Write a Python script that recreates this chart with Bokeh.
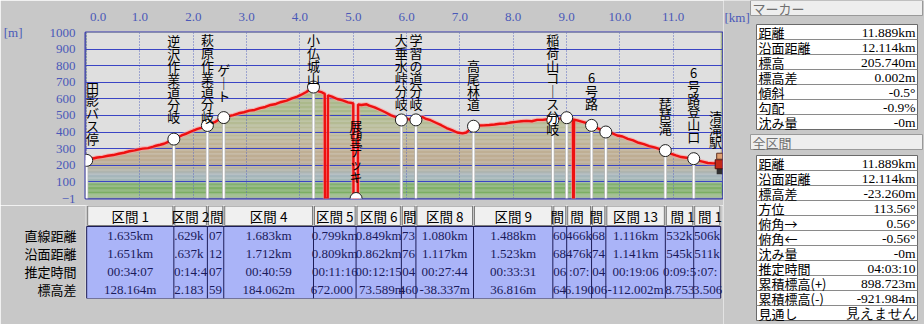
from bokeh.plotting import figure
from bokeh.models import Range1d, FixedTicker, PrintfTickFormatter, LinearAxis
from bokeh.layouts import row, column
from bokeh.embed import file_html
from bokeh.resources import INLINE
from bokeh.core.properties import value

# ---------------- data ----------------
waypoint_names = ["田影バス停", "逆沢作業道分岐", "萩原作業道分岐", "ゲート", "小仏城山",
                  "展望デッキ", "大垂水峠分岐", "学習の道分岐", "高尾林道", "稲荷山コース分岐",
                  "", "6号路", "", "琵琶滝", "6号路登山口", "清滝駅"]
start_elevation = 229.0
seg_labels = ["区間 1", "区間 2", "区間 3", "区間 4", "区間 5", "区間 6", "区間 7", "区間 8",
              "区間 9", "区間 10", "区間 11", "区間 12", "区間 13", "区間 14", "区間 15"]
seg_straight_km = [1.635, 0.629, 0.307, 1.683, 0.799, 0.849, 0.273, 1.080, 1.488, 0.260,
                   0.466, 0.268, 1.116, 0.532, 0.506]
seg_surface_km = [1.651, 0.637, 0.312, 1.712, 0.809, 0.862, 0.276, 1.117, 1.523, 0.268,
                  0.476, 0.274, 1.141, 0.545, 0.511]
seg_time = ["00:34:07", "00:14:43", "00:07:59", "00:40:59", "00:11:16", "00:12:15", "00:04:18",
            "00:27:44", "00:33:31", "00:06:52", "00:07:38", "00:04:21", "00:19:06", "00:09:52",
            "00:07:45"]
seg_dz_m = [128.164, 82.183, 47.592, 184.062, -672.000, 473.589, 0.460, -38.337, 36.816,
            14.643, -46.190, -40.061, -112.002, -48.753, -33.506]
row_names = ["直線距離", "沿面距離", "推定時間", "標高差"]

profile_km = [0.0, 0.06, 0.12, 0.2, 0.3, 0.4, 0.5, 0.6, 0.7, 0.8, 0.9, 1.0, 1.05, 1.15, 1.25,
              1.3, 1.38, 1.45, 1.52, 1.58, 1.635,
              1.7, 1.78, 1.86, 1.93, 2.0, 2.08, 2.15, 2.2, 2.264,
              2.33, 2.4, 2.46, 2.52, 2.571,
              2.65, 2.75, 2.85, 2.95, 3.05, 3.15, 3.25, 3.35, 3.45, 3.55, 3.65, 3.75, 3.85,
              3.95, 4.05, 4.12, 4.2, 4.254,
              4.32, 4.4, 4.465, 4.47, 4.52, 4.525, 4.6, 4.7, 4.8, 4.9, 4.97, 5.0, 5.005,
              5.053, 5.085, 5.09,
              5.15, 5.25, 5.3, 5.4, 5.5, 5.6, 5.7, 5.8, 5.85, 5.902,
              5.95, 6.0, 6.05, 6.1, 6.175,
              6.25, 6.3, 6.35, 6.45, 6.55, 6.65, 6.75, 6.85, 6.95, 7.05, 7.12, 7.2, 7.255,
              7.35, 7.45, 7.55, 7.65, 7.75, 7.85, 7.95, 8.05, 8.15, 8.25, 8.35, 8.45, 8.55,
              8.65, 8.743,
              8.8, 8.87, 8.94, 9.003,
              9.05, 9.1, 9.12, 9.125, 9.135, 9.14, 9.2, 9.3, 9.38, 9.469,
              9.55, 9.62, 9.68, 9.737,
              9.85, 9.95, 10.05, 10.15, 10.25, 10.35, 10.45, 10.55, 10.65, 10.75, 10.853,
              10.95, 11.05, 11.15, 11.25, 11.32, 11.385,
              11.45, 11.55, 11.65, 11.75, 11.82, 11.891]
profile_m = [229.0, 244, 240, 246, 250, 257, 261, 269, 275, 284, 289, 297, 300, 303, 312,
             317, 323, 329, 339, 347, 357.2,
             366, 379, 389, 399, 409, 419, 425, 434, 439.3,
             452, 459, 471, 479, 486.9,
             495, 502, 513, 519, 529, 533, 544, 551, 563, 569, 581, 589, 603,
             613, 629, 641, 660, 671.0,
             648, 641, 630, -1, -1, 621, 613, 599, 591, 579, 575, 572, -1,
             -1.0, -1, 566,
             563, 567, 559, 549, 534, 519, 502, 489, 477, 472.6,
             477, 480, 476, 475, 473.1,
             486, 490, 481, 471, 456, 441, 424, 411, 397, 392, 397, 419, 434.7,
             439, 440, 442, 445, 450, 451, 457, 461, 465, 467, 465, 473, 473,
             477, 471.5,
             478, 481, 485, 486.2,
             482, 479, 476, -1, -1, 474, 470, 461, 453, 440.0,
             427, 417, 407, 399.9,
             393, 379, 373, 359, 349, 335, 327, 315, 307, 297, 287.9,
             270, 259, 249, 245, 236, 239.2,
             229, 221, 213, 211, 212, 205.7]

km_ticks = [0, 1, 2, 3, 4, 5, 6, 7, 8, 9, 10, 11]
m_ticks = [-1, 100, 200, 300, 400, 500, 600, 700, 800, 900, 1000]

marker_keys = ["距離", "沿面距離", "標高", "標高差", "傾斜", "勾配", "沈み量"]
marker_vals = ["11.889km", "12.114km", "205.740m", "0.002m", "-0.5°", "-0.9%", "-0m"]
total_keys = ["距離", "沿面距離", "標高差", "方位", "俯角→", "俯角←", "沈み量", "推定時間",
              "累積標高(+)", "累積標高(-)", "見通し"]
total_vals = ["11.889km", "12.114km", "-23.260m", "113.56°", "0.56°", "-0.56°", "-0m",
              "04:03:10", "898.723m", "-921.984m", "見えません"]

# ---------------- styling ----------------
BG = "#c8c8c8"
AXIS_BLUE = "#4a58b8"
JP = value("Noto Sans CJK JP")
SERIF = value("Liberation Serif")

LEFT_W = 723
FRAME_L, FRAME_W = 84, 638
FRAME_H = 166
xr = Range1d(-0.022, 11.925)
PX_PER_KM = FRAME_W / (xr.end - xr.start)
PX_PER_M = FRAME_H / 1001.0

# cumulative waypoint positions
wx = [0.0]
we = [start_elevation]
for d, dz in zip(seg_straight_km, seg_dz_m):
    wx.append(wx[-1] + d)
    we.append(we[-1] + dz)

# ---------------- profile figure ----------------
p = figure(width=LEFT_W, height=205, x_range=xr, y_range=Range1d(-1, 1000),
           output_backend="svg", toolbar_location=None, x_axis_location="above",
           min_border_left=FRAME_L, min_border_right=LEFT_W - FRAME_L - FRAME_W,
           min_border_top=32, min_border_bottom=7,
           background_fill_color="#dfdfdf", border_fill_color=BG)
p.outline_line_color = "#3434b0"
p.outline_line_width = 2

# background gradient bands (style)
stops = [(-1, (182, 198, 170)), (15, (160, 190, 140)), (35, (124, 174, 100)),
         (85, (132, 178, 112)), (105, (160, 182, 178)), (140, (168, 182, 190)),
         (175, (180, 180, 166)), (230, (190, 172, 146)), (320, (192, 178, 150)),
         (420, (186, 188, 152)), (520, (172, 186, 140)), (1000, (168, 184, 138))]
def col_at(e):
    for (e0, c0), (e1, c1) in zip(stops[:-1], stops[1:]):
        if e0 <= e <= e1:
            t = (e - e0) / (e1 - e0)
            return "#%02x%02x%02x" % tuple(int(a + (b - a) * t) for a, b in zip(c0, c1))
    return "#a8b88a"
bb, bt, bc = [], [], []
e = -1
while e < 1000:
    bb.append(e); bt.append(e + 8); bc.append(col_at(e + 4)); e += 8
p.quad(left=xr.start, right=xr.end, bottom=bb, top=bt, fill_color=bc, line_color=None,
       level="image")
p.varea(x=profile_km, y1=profile_m, y2=1000, fill_color="#dfdfdf", level="image")

p.ygrid.ticker = FixedTicker(ticks=m_ticks)
p.ygrid.grid_line_color = "#3a44c4"
p.ygrid.grid_line_width = 1
p.xgrid.ticker = FixedTicker(ticks=km_ticks)
p.xgrid.grid_line_color = "#5a68c0"
p.xgrid.grid_line_dash = "1 2"

p.xaxis.ticker = FixedTicker(ticks=km_ticks)
p.xaxis.formatter = PrintfTickFormatter(format="%.1f")
p.xaxis.major_label_overrides = {0: "\u00a0" * 7 + "0.0"}
p.yaxis.ticker = FixedTicker(ticks=m_ticks)
unit_axis = LinearAxis(ticker=FixedTicker(ticks=[1000]), major_label_overrides={1000: "[m]"})
p.add_layout(unit_axis, "left")
for ax in (p.xaxis[0], p.yaxis[0], unit_axis):
    ax.axis_line_color = None
    ax.major_tick_line_color = None
    ax.minor_tick_line_color = None
    ax.major_tick_out = 0
    ax.major_tick_in = 0
    ax.minor_tick_out = 0
    ax.minor_tick_in = 0
    ax.major_label_text_color = AXIS_BLUE
    ax.major_label_text_font = "Liberation Serif"
    ax.major_label_text_font_size = "13px"
p.xaxis.major_label_standoff = 9
p.yaxis[0].major_label_standoff = 10
unit_axis.major_label_standoff = 24

# marker stems
p.segment(x0=wx[:-1], y0=we[:-1], x1=wx[:-1], y1=-1, color="#b4b4b4", line_width=3.2)
p.segment(x0=wx[:-1], y0=we[:-1], x1=wx[:-1], y1=-1, color="#ffffff", line_width=1.8)

# profile line
p.line(profile_km, profile_m, color="#ff9a9a", line_width=4.5, line_alpha=0.6)
p.line(profile_km, profile_m, color="#ee1010", line_width=2.4)

# markers
p.scatter(wx[:-1], we[:-1], size=12, fill_color="white", line_color="#202020", line_width=1)

# hiker at the end
ex, ey = wx[-1], we[-1]
p.rect(x=[ex - 1 / PX_PER_KM], y=[ey - 7 / PX_PER_M], width=6, height=6, width_units="screen",
       height_units="screen", fill_color="#303030", line_color=None)
p.rect(x=[ex - 1 / PX_PER_KM], y=[ey], width=9, height=9, width_units="screen",
       height_units="screen", fill_color="#c42818", line_color="#501010")
p.rect(x=[ex - 1 / PX_PER_KM], y=[ey + 8 / PX_PER_M], width=6, height=6, width_units="screen",
       height_units="screen", fill_color="#e0a070", line_color="#603020")

# vertical waypoint labels, one character per row
CH = 12.7
half_w = 7.0 / PX_PER_KM
cx_, cy_, ct_ = [], [], []
for name, x, e in zip(waypoint_names, wx, we):
    if not name:
        continue
    n = len(name)
    top = e + (16 + n * CH) / PX_PER_M
    top = min(top, 1000 - 1 / PX_PER_M)
    xl = min(max(x, xr.start + half_w), xr.end - half_w)
    for k, c in enumerate(name):
        cx_.append(xl)
        cy_.append(top - (k + 0.5) * CH / PX_PER_M)
        ct_.append("｜" if c == "ー" else c)
p.text(x=cx_, y=cy_, text=ct_, text_font=JP, text_font_size="13px", text_align="center",
       text_baseline="middle", text_color="#000000")

# ---------------- segment table ----------------
def w_serif(c):
    if c.isdigit():
        return 6.5
    return {".": 3.25, ":": 3.6, "-": 4.3, "k": 6.5, "m": 10.1, " ": 3.25}.get(c, 6.5)

def w_jp(c):
    if ord(c) > 0x2000:
        return 13.0
    return 3.5 if c == " " else 7.2

def fit(s, width, cw):
    ws = [cw(c) for c in s]
    pos = -sum(ws) / 2
    keep = []
    for c, w in zip(s, ws):
        if abs(pos + w / 2) <= width / 2 - 0.5:
            keep.append((c, w, pos))
        pos += w
    if not keep:
        return "", 0.0
    return "".join(k[0] for k in keep), (keep[0][2] + keep[-1][2] + keep[-1][1]) / 2

t = figure(width=LEFT_W, height=119, x_range=xr, y_range=Range1d(0, 93),
           output_backend="svg", toolbar_location=None, x_axis_location=None,
           min_border_left=FRAME_L, min_border_right=LEFT_W - FRAME_L - FRAME_W,
           min_border_top=0, min_border_bottom=26,
           background_fill_color=BG, border_fill_color=BG, outline_line_color=None)
t.grid.visible = False
row_y = [63, 45, 27, 9]
t.yaxis.ticker = FixedTicker(ticks=row_y)
t.yaxis.major_label_overrides = {y: n for y, n in zip(row_y, row_names)}
t.yaxis.axis_line_color = None
t.yaxis.major_tick_line_color = None
t.yaxis.minor_tick_line_color = None
t.yaxis.major_tick_out = 0
t.yaxis.major_label_text_font = "Noto Sans CJK JP"
t.yaxis.major_label_text_font_size = "13px"
t.yaxis.major_label_text_color = "#000000"
t.yaxis.major_label_standoff = 9

left = wx[:-1]
right = wx[1:]
t.quad(left=wx[0], right=wx[-1], bottom=0, top=72, fill_color="#aab4f8",
       line_color="#1c1c58", line_width=1)
t.segment(x0=wx[1:-1], y0=0, x1=wx[1:-1], y1=72, color="#1c1c58", line_width=1)
g = 1.0 / PX_PER_KM
t.quad(left=[a + g for a in left], right=[b - g for b in right], bottom=73, top=92.5,
       fill_color="#f0f0f0", line_color="#7c7c7c", line_width=1)

hx, ht, ho = [], [], []
cx, cy, ct, co = [], [], [], []
for i in range(len(seg_labels)):
    mid = (left[i] + right[i]) / 2
    wpx = seg_straight_km[i] * PX_PER_KM
    s, o = fit(seg_labels[i], wpx - 2, w_jp)
    hx.append(mid); ht.append(s); ho.append(o)
    vals = ["%.3fkm" % seg_straight_km[i], "%.3fkm" % seg_surface_km[i], seg_time[i],
            "%.3fm" % seg_dz_m[i]]
    for v, y in zip(vals, row_y):
        s, o = fit(v, wpx, w_serif)
        cx.append(mid); cy.append(y); ct.append(s); co.append(o)
t.text(x=hx, y=83, text=ht, x_offset=ho, text_font=JP, text_font_size="13.5px",
       text_align="center", text_baseline="middle", text_color="#000000")
t.text(x=cx, y=cy, text=ct, x_offset=co, text_font=SERIF, text_font_size="13px",
       text_align="center", text_baseline="middle", text_color="#1a1a5a")

# ---------------- right info panel ----------------
RW = 924 - LEFT_W
r = figure(width=RW, height=324, x_range=Range1d(LEFT_W, 924), y_range=Range1d(324, 0),
           output_backend="svg", toolbar_location=None, x_axis_location=None,
           y_axis_location=None, min_border=0, background_fill_color=BG,
           border_fill_color=BG, outline_line_color=None)
r.grid.visible = False
r.text(x=[724], y=[17], text=["[km]"], text_font=SERIF, text_font_size="13px",
       text_align="left", text_baseline="middle", text_color=AXIS_BLUE)

def panel(title, keys, vals, bar_top, box_top):
    r.quad(left=750, right=922, top=bar_top, bottom=bar_top + 15, fill_color="#eeeeee",
           line_color="#9a9a9a")
    r.text(x=[752], y=[bar_top + 8], text=[title], text_font=JP, text_font_size="13px",
           text_baseline="middle", text_color="#707070")
    n = len(keys)
    r.quad(left=756, right=917, top=box_top, bottom=box_top + 15 * n, fill_color="#ffffff",
           line_color="#6a6a6a")
    ys = [box_top + 15 * i for i in range(1, n)]
    r.segment(x0=756, y0=ys, x1=917, y1=ys, color="#8a8a8a", line_width=1)
    cys = [box_top + 7.5 + 15 * i for i in range(n)]
    r.text(x=758, y=cys, text=keys, text_font=JP, text_font_size="13px",
           text_baseline="middle", text_color="#000000")
    r.text(x=915, y=cys, text=vals, text_font=SERIF, text_font_size="13.5px",
           text_align="right", text_baseline="middle", text_color="#000000")

panel("マーカー", marker_keys, marker_vals, 0, 24)
panel("全区間", total_keys, total_vals, 134, 155)

layout = row(column(p, t), r)
open("out.html", "w").write(file_html(layout, INLINE))
